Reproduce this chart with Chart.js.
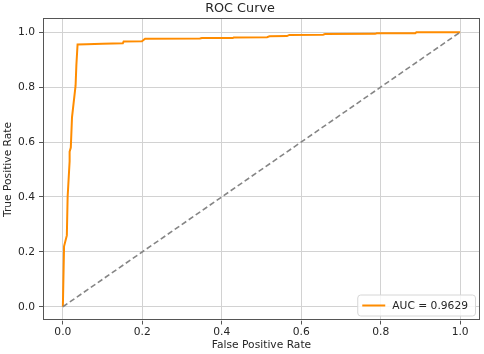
<!DOCTYPE html>
<html>
<head>
<meta charset="utf-8">
<script src="https://cdn.jsdelivr.net/npm/chart.js@4/dist/chart.umd.min.js"></script>
<style>
  html, body { margin: 0; padding: 0; background: #ffffff; }
  canvas { display: block; }
</style>
</head>
<body>
<canvas id="c" width="484" height="354"></canvas>
<script>
// ---- data ----
const fprValues = [0, 0.003, 0.010, 0.012, 0.017, 0.017, 0.020, 0.023, 0.032, 0.034, 0.037,
  0.06, 0.10, 0.151, 0.153, 0.199, 0.207, 0.345, 0.35, 0.428, 0.43, 0.514, 0.52,
  0.564, 0.57, 0.655, 0.66, 0.786, 0.79, 0.887, 0.89, 1.0];
const tprValues = [0, 0.22, 0.26, 0.40, 0.53, 0.565, 0.58, 0.69, 0.805, 0.88, 0.955,
  0.956, 0.958, 0.960, 0.966, 0.967, 0.976, 0.977, 0.979, 0.979, 0.981, 0.982, 0.985,
  0.986, 0.990, 0.991, 0.993, 0.994, 0.996, 0.996, 1.0, 1.0];
const chanceX = [0, 1];
const chanceY = [0, 1];
const xTickValues = [0, 0.2, 0.4, 0.6, 0.8, 1.0];
const yTickValues = [0, 0.2, 0.4, 0.6, 0.8, 1.0];
const rocLabel = 'AUC = 0.9629';
const chartTitle = 'ROC Curve';
const xAxisTitle = 'False Positive Rate';
const yAxisTitle = 'True Positive Rate';

const FONT = 'DejaVu Sans';
const TEXT = '#262626';
const GRID = '#d2d2d2';
const SPINE = '#555555';

const rocPoints = fprValues.map((x, i) => ({ x: x, y: tprValues[i] }));
const chancePoints = chanceX.map((x, i) => ({ x: x, y: chanceY[i] }));

const framePlugin = {
  id: 'frame',
  afterDatasetsDraw(chart) {
    const { ctx, chartArea: a } = chart;
    ctx.save();
    ctx.strokeStyle = SPINE;
    ctx.lineWidth = 1;
    ctx.strokeRect(Math.round(a.left) + 0.5, Math.round(a.top) + 0.5,
                   Math.round(a.right - a.left) - 1, Math.round(a.bottom - a.top) - 1);
    ctx.restore();
  },
  afterDraw(chart) {
    // legend box in the lower right corner of the plot area
    const { ctx, chartArea: a } = chart;
    const ds = chart.data.datasets[0];
    ctx.save();
    ctx.font = '10.7px "' + FONT + '"';
    const tw = ctx.measureText(ds.label).width;
    const bw = tw + 42, bh = 21;
    const bx = a.right - 5 - bw, by = a.bottom - 5 - bh;
    ctx.beginPath();
    ctx.roundRect(bx + 0.5, by + 0.5, bw, bh, 3);
    ctx.fillStyle = 'rgba(255,255,255,0.85)';
    ctx.fill();
    ctx.strokeStyle = '#d6d6d6';
    ctx.lineWidth = 1;
    ctx.stroke();
    const cy = by + bh / 2 + 0.5;
    ctx.beginPath();
    ctx.moveTo(bx + 5, cy);
    ctx.lineTo(bx + 28, cy);
    ctx.strokeStyle = ds.borderColor;
    ctx.lineWidth = 2;
    ctx.stroke();
    ctx.fillStyle = TEXT;
    ctx.textBaseline = 'middle';
    ctx.textAlign = 'left';
    ctx.fillText(ds.label, bx + 35, cy + 0.5);
    ctx.restore();
  }
};

new Chart(document.getElementById('c'), {
  type: 'scatter',
  data: {
    datasets: [
      {
        label: rocLabel,
        data: rocPoints,
        showLine: true,
        borderColor: '#ff8c00',
        backgroundColor: '#ff8c00',
        borderWidth: 2,
        pointRadius: 0,
        tension: 0,
        order: 1
      },
      {
        label: 'chance',
        data: chancePoints,
        showLine: true,
        borderColor: '#858585',
        backgroundColor: '#858585',
        borderWidth: 1.6,
        borderDash: [5.5, 3],
        pointRadius: 0,
        tension: 0,
        order: 0
      }
    ]
  },
  options: {
    responsive: false,
    animation: false,
    devicePixelRatio: 1,
    layout: { padding: { left: 0, right: 4, top: 0, bottom: 0 } },
    plugins: {
      legend: { display: false },
      tooltip: { enabled: false },
      title: {
        display: true,
        text: chartTitle,
        color: TEXT,
        font: { family: FONT, size: 12.8, weight: 'normal', lineHeight: 1.2 },
        padding: { top: 1, bottom: 2.1 }
      }
    },
    scales: {
      x: {
        type: 'linear',
        min: -0.05,
        max: 1.05,
        afterBuildTicks(scale) { scale.ticks = xTickValues.map(v => ({ value: v })); },
        afterFit(scale) { scale.height = 33.5; },
        ticks: {
          color: TEXT,
          font: { family: FONT, size: 10.7 },
          padding: 1,
          maxRotation: 0,
          autoSkip: false,
          callback: v => Number(v).toFixed(1)
        },
        grid: { color: GRID, lineWidth: 1, tickLength: 4, tickColor: SPINE, drawTicks: true },
        border: { display: false },
        title: {
          display: true,
          text: xAxisTitle,
          color: TEXT,
          font: { family: FONT, size: 10.7, lineHeight: 1.2 },
          padding: { top: 0, bottom: 2 }
        }
      },
      y: {
        type: 'linear',
        min: -0.05,
        max: 1.05,
        afterBuildTicks(scale) { scale.ticks = yTickValues.map(v => ({ value: v })); },
        afterFit(scale) { scale.width = 43; },
        ticks: {
          color: TEXT,
          font: { family: FONT, size: 10.7 },
          padding: 4,
          autoSkip: false,
          callback: v => Number(v).toFixed(1)
        },
        grid: { color: GRID, lineWidth: 1, tickLength: 4, tickColor: SPINE, drawTicks: true },
        border: { display: false },
        title: {
          display: true,
          text: yAxisTitle,
          color: TEXT,
          font: { family: FONT, size: 10.7, lineHeight: 1.2 },
          padding: { top: 2, bottom: 0 }
        }
      }
    }
  },
  plugins: [framePlugin]
});
</script>
</body>
</html>
